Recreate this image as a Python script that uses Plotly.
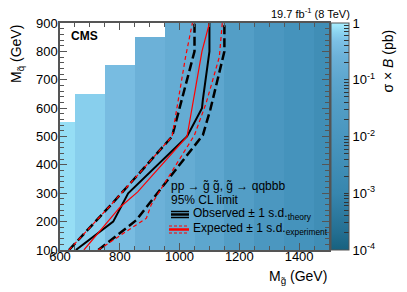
import math
import plotly.graph_objects as go

# ---------------- data ----------------
m_gluino = [600, 700, 800, 900, 1000, 1100, 1200, 1300, 1400, 1500]
m_squark = [100, 200, 300, 400, 500, 600, 700, 800, 900]
xsec_limit = [0.79, 0.63, 0.40, 0.25, 0.16, 0.10, 0.04, 0.0125, 0.0063, 0.003]
max_squark = [500, 600, 700, 800, 900, 900, 900, 900, 900, 900]

obs_x = [653, 778, 828, 1025, 1075, 1078, 1100, 1100]
obs_y = [100, 200, 300, 500, 600, 630, 800, 900]
obs_minus_x = [630, 780, 975, 1050, 1050]
obs_minus_y = [100, 270, 500, 800, 900]
obs_plus_x = [728, 855, 1078, 1103, 1150, 1150]
obs_plus_y = [100, 205, 505, 595, 800, 900]

exp_x = [680, 800, 860, 1025, 1075, 1100]
exp_y = [100, 250, 305, 500, 800, 900]
exp_minus_x = [630, 780, 975, 1020, 1043]
exp_minus_y = [100, 270, 500, 780, 900]
exp_plus_x = [728, 850, 889, 905, 1050, 1089, 1133, 1143]
exp_plus_y = [100, 185, 212, 259, 505, 618, 780, 900]

cbar_decades = [-4, -3, -2, -1, 0]
cbar_labels = ["10<sup>-4</sup>", "10<sup>-3</sup>", "10<sup>-2</sup>", "10<sup>-1</sup>", "1"]

# ---------------- layout geometry ----------------
W, H = 407, 292
L, R, T, B = 60, 329, 23, 250
PW, PH = R - L, B - T


def px(xp):
    return (xp - L) / PW


def py(yp):
    return (B - yp) / PH


FONT = "Liberation Sans, Arial, Helvetica, sans-serif"

z = []
for msq in m_squark:
    row = []
    for mg, val, mmax in zip(m_gluino, xsec_limit, max_squark):
        row.append(math.log10(val) if msq <= mmax else None)
    z.append(row)

colorscale = [
    [0.0, "#17617f"],
    [0.08, "#246f92"],
    [0.25, "#3786ae"],
    [0.5, "#4996bf"],
    [0.65, "#539ec6"],
    [0.75, "#5da6ce"],
    [0.85, "#6cb1d8"],
    [0.92, "#7cc0e5"],
    [0.96, "#8cd4f0"],
    [1.0, "#a8efff"],
]

minor_vals = []
minor_text = []
for d in range(-4, 0):
    for k in range(1, 10):
        v = d + math.log10(k)
        minor_vals.append(v)
        minor_text.append(cbar_labels[cbar_decades.index(d)] if k == 1 else "")
minor_vals.append(0)
minor_text.append("1")

fig = go.Figure()
fig.add_trace(go.Heatmap(
    x=m_gluino, y=m_squark, z=z,
    zmin=-4, zmax=0, colorscale=colorscale,
    hoverinfo="skip",
    colorbar=dict(
        x=px(331), xanchor="left", xpad=0, ypad=0,
        y=0.5, yanchor="middle", len=1, lenmode="fraction",
        thickness=18, thicknessmode="pixels",
        outlinewidth=1, outlinecolor="#555555",
        ticks="inside", ticklen=5, tickcolor="#333333",
        tickvals=minor_vals, ticktext=minor_text,
        tickfont=dict(family=FONT, size=13, color="black"),
    ),
))

line_specs = [
    (obs_minus_x, obs_minus_y, "black", 2.5, "9px,4px"),
    (obs_plus_x, obs_plus_y, "black", 2.5, "9px,4px"),
    (exp_minus_x, exp_minus_y, "red", 1.2, "4px,3px"),
    (exp_plus_x, exp_plus_y, "red", 1.2, "4px,3px"),
    (obs_x, obs_y, "black", 2.0, "solid"),
    (exp_x, exp_y, "red", 1.2, "solid"),
]
for xs, ys, col, w, dash in line_specs:
    fig.add_trace(go.Scatter(x=xs, y=ys, mode="lines",
                             line=dict(color=col, width=w, dash=dash),
                             hoverinfo="skip", showlegend=False))

axis_common = dict(
    ticks="inside", mirror="ticks", showline=True, linecolor="#555555",
    linewidth=1.5, tickcolor="#555555", showgrid=False, zeroline=False,
    tickfont=dict(family=FONT, size=13, color="black"),
)
fig.update_xaxes(range=[600, 1500], tickvals=[600, 800, 1000, 1200, 1400],
                 ticklen=7, ticklabelstandoff=-6,
                 minor=dict(dtick=50, ticklen=4, ticks="inside", tickcolor="#555555"),
                 **axis_common)
fig.update_yaxes(range=[100, 900], tickvals=m_squark, ticklen=7, ticklabelstandoff=-2,
                 minor=dict(dtick=20, ticklen=4, ticks="inside", tickcolor="#555555"),
                 **axis_common)

ann = []


def text(x, y, s, size=13, xanchor="left", yanchor="middle", angle=0):
    ann.append(dict(x=x, y=y, xref="paper", yref="paper", text=s, showarrow=False,
                    xanchor=xanchor, yanchor=yanchor, textangle=angle,
                    font=dict(family=FONT, size=size, color="black")))


text(px(69), py(36), "<b>CMS</b>", size=12)
text(px(352), py(13), "19.7 fb<sup>-1</sup> (8 TeV)", size=11, xanchor="right")
text(px(17), py(23), "M<sub>q̃</sub> (GeV)", size=14, xanchor="center", yanchor="top", angle=-90)
text(px(329), py(277), "M<sub>g̃</sub> (GeV)", size=14, xanchor="right")
text(px(388), py(28), "σ × <i>B</i> (pb)", size=14, xanchor="center", yanchor="top", angle=-90)

text(px(169), py(186), "pp → g̃ g̃, g̃ → qqbbb", size=12)
text(px(169), py(200), "95% CL limit", size=12)
text(px(191), py(214), "Observed ± 1 s.d.<sub>theory</sub>", size=12)
text(px(191), py(229), "Expected ± 1 s.d.<sub>experiment</sub>", size=12)

shapes = []


def hline(x0, x1, y, col, w, dash="solid"):
    shapes.append(dict(type="line", xref="paper", yref="paper",
                       x0=px(x0), x1=px(x1), y0=py(y), y1=py(y),
                       line=dict(color=col, width=w, dash=dash)))


hline(171, 189, 211.5, "black", 1.5)
hline(171, 189, 214.5, "black", 2.5)
hline(171, 189, 217.5, "black", 1.5)
hline(169, 189, 226, "red", 1.2, "3px,2px")
hline(169, 189, 229.5, "red", 2.5)
hline(169, 189, 233, "red", 1.2, "3px,2px")

fig.update_layout(
    width=W, height=H,
    margin=dict(l=L, r=W - R, t=T, b=H - B),
    paper_bgcolor="white", plot_bgcolor="white",
    annotations=ann, shapes=shapes, showlegend=False,
    font=dict(family=FONT),
)

fig.write_html("out.html", config={"displayModeBar": False},
               post_script="document.body.style.margin='0';")
